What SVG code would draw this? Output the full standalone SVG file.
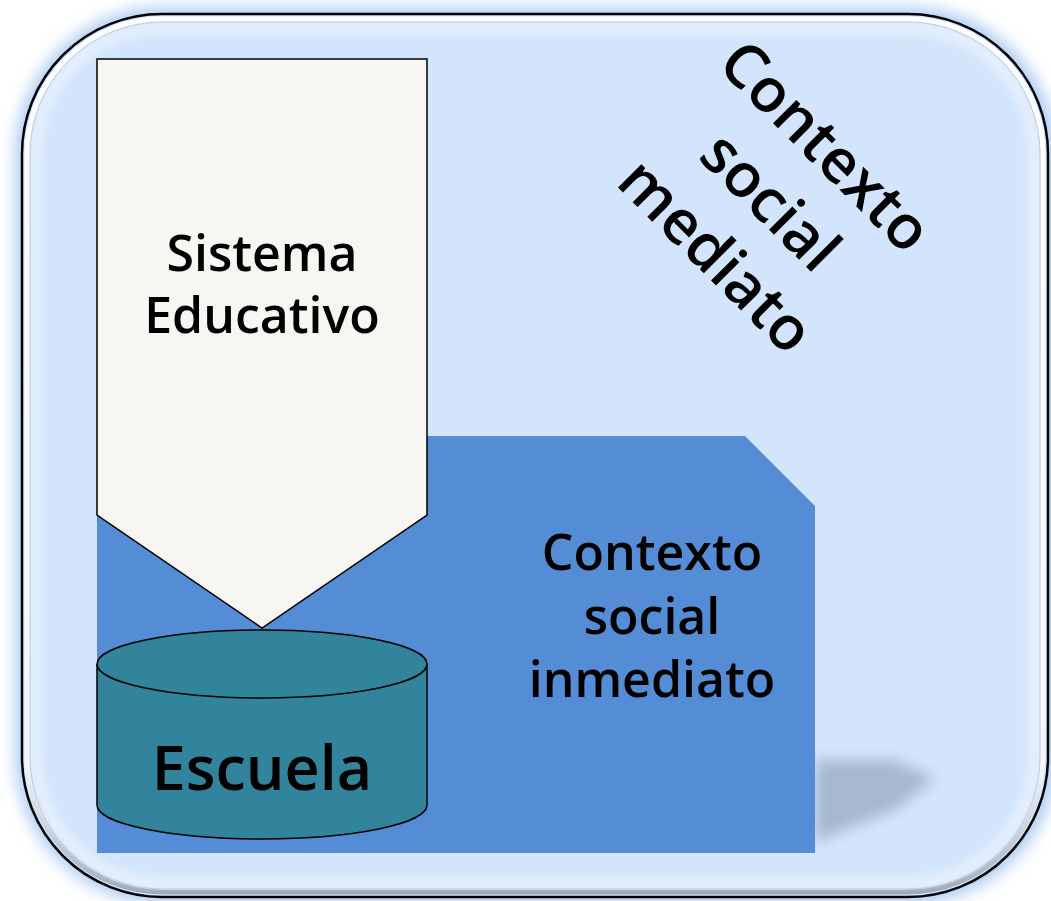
<svg xmlns="http://www.w3.org/2000/svg" width="1051" height="901" viewBox="0 0 1051 901">
<defs>
<filter id="glow" x="-10%" y="-10%" width="120%" height="120%"><feGaussianBlur stdDeviation="8"/></filter>
<filter id="soft" x="-20%" y="-20%" width="140%" height="140%"><feGaussianBlur stdDeviation="5"/></filter>
<filter id="shadow" x="-30%" y="-30%" width="160%" height="160%"><feGaussianBlur stdDeviation="7"/></filter>
<linearGradient id="bev" x1="0" y1="0" x2="0" y2="1">
<stop offset="0" stop-color="#ffffff" stop-opacity="0.95"/>
<stop offset="0.85" stop-color="#ffffff" stop-opacity="0.7"/>
<stop offset="1" stop-color="#8a93a6" stop-opacity="0.8"/>
</linearGradient>
</defs>
<style>
.lbl{font-family:"Open Sans","Noto Sans","Liberation Sans",sans-serif;font-weight:600;fill:#000;text-anchor:middle}
.edge{stroke:#000;stroke-width:1.5}
</style>
<rect width="1051" height="901" fill="#ffffff"/>
<g id="contexto-mediato">
<rect x="16" y="8" width="1040" height="895" rx="146" fill="#a9c9f3" filter="url(#glow)"/>
<rect x="22" y="14" width="1026" height="883" rx="140" fill="#d2e5fc" stroke="#000" stroke-width="2.5"/>
<rect x="27" y="19" width="1016" height="873" rx="135" fill="none" stroke="url(#bev)" stroke-width="5"/>
<rect x="30" y="22" width="1010" height="867" rx="132" fill="none" stroke="#b4bfd0" stroke-width="1"/>
<rect x="36" y="28" width="998" height="855" rx="126" fill="none" stroke="#ffffff" stroke-opacity="0.5" stroke-width="10" filter="url(#soft)"/>
<g transform="translate(767,205) rotate(45)">
<text class="lbl" x="0" y="-62" font-size="61">Contexto</text>
<text class="lbl" x="0" y="16" font-size="61">social</text>
<text class="lbl" x="0" y="93" font-size="61">mediato</text>
</g>
</g>
<g id="contexto-inmediato">
<polygon points="815,760 895,760 935,778 895,810 815,842" fill="#a6b8d2" filter="url(#shadow)"/>
<polygon points="97,436 745,436 815,506 815,853 97,853" fill="#548dd5"/>
<text class="lbl" x="652" y="570" font-size="50">Contexto</text>
<text class="lbl" x="652" y="634" font-size="50">social</text>
<text class="lbl" x="652" y="697" font-size="50">inmediato</text>
</g>
<g id="sistema-educativo">
<polygon class="edge" points="97,59 427,59 427,515 262,628 97,515" fill="#f7f6f3"/>
<text class="lbl" x="262" y="271" font-size="50">Sistema</text>
<text class="lbl" x="262" y="333" font-size="50">Educativo</text>
</g>
<g id="escuela">
<path class="edge" d="M97,664 L97,805 A165,34 0 0 0 427,805 L427,664" fill="#31849b"/>
<ellipse class="edge" cx="262" cy="664" rx="165" ry="34" fill="#31849b"/>
<text class="lbl" x="262" y="790" font-size="61">Escuela</text>
</g>
<g id="connectors"/>
</svg>
